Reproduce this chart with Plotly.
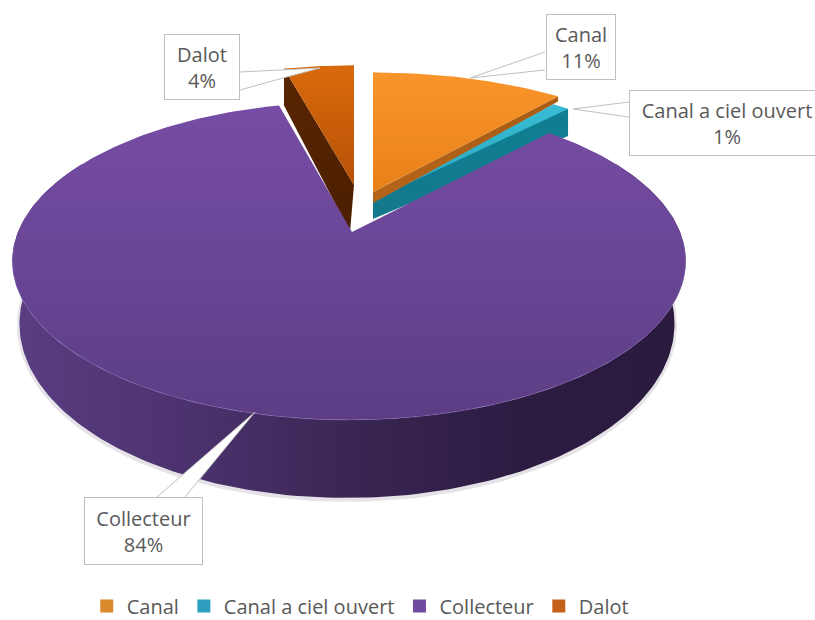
import numpy as np
import plotly.graph_objects as go

categories = ["Canal", "Canal a ciel ouvert", "Collecteur", "Dalot"]
values = [11, 1, 84, 4]
legend_colors = ["#d98a2b", "#2f9fc0", "#6f4a9e", "#c4601a"]

# perspective pie geometry (pixel-like axes)
A, B, K = 331.0, 153.7, 0.182
TEXT = "#595959"
FONT = "Open Sans"

total = sum(values)
edges = np.cumsum([0] + values) / total


def project(frac, cx, cy, xs=1.0, ys=1.0):
    t = 2 * np.pi * np.asarray(frac, dtype=float)
    w = 1 + K * np.cos(t)
    return cx + A * xs * np.sin(t) / w, cy - B * ys * np.cos(t) / w


def arc(i):
    return np.linspace(edges[i], edges[i + 1], max(8, int(400 * (edges[i + 1] - edges[i]))))


def wedge(i, cx, cy, xs=1.0, ys=1.0):
    x, y = project(arc(i), cx, cy, xs, ys)
    return [cx, *x, cx], [cy, *y, cy]


fig = go.Figure()


def poly(x, y, colors, kind="vertical"):
    # plotly's vertical gradient runs bottom to top on this reversed axis
    colors = colors[::-1] if kind == "vertical" else colors
    fig.add_trace(go.Scatter(
        x=list(x), y=list(y), mode="lines", fill="toself",
        line=dict(width=0),
        fillgradient=dict(type=kind, colorscale=[[i / (len(colors) - 1), c] for i, c in enumerate(colors)]),
        showlegend=False, hoverinfo="skip"))


# Dalot (index 3)
dx, dy = wedge(3, 354, 185, 1.0, 0.92)
ax, ay = project(edges[3], 354, 185, 1.0, 0.92)
poly([ax, ax, 350, 354], [ay, ay + 37, 232, 185], ["#5a2602", "#4a1e00"])
poly(dx, dy, ["#d96a0c", "#b85208"])

# Canal a ciel ouvert (index 1)
tx, ty = wedge(1, 373, 200, 0.975, 0.92)
ex, ey = project(edges[2], 373, 200, 0.975, 0.92)
sx, sy = project(edges[1], 373, 200, 0.975, 0.92)
poly([373, sx, ex, ex, 373], [200, sy, ey, ey + 27, 219], ["#0f7f93", "#14788c"])
poly(tx, ty, ["#38bcd4", "#2aa6c0"])

# Canal (index 0)
cx_, cy_ = wedge(0, 373, 192, 1.0, 0.92)
px, py = project(edges[1], 373, 192, 1.0, 0.92)
poly([373, px, px, 373], [192, py, py + 5, 203], ["#a85c12", "#b5651a"])
poly(cx_, cy_, ["#f9952a", "#e8801a"])

# Collecteur (index 2)
CX, CY = 349.0, 232.0
APEX_X = 352.0
front = np.linspace(0.17, 0.83, 200)
tx2, ty2 = project(front, CX, CY)
bx2, by2 = project(front, CX - 2, CY + 60, 0.973, 1.096)
fig.add_trace(go.Scatter(x=list(bx2), y=list(by2 + 1.5), mode="lines",
                         line=dict(color="rgba(70,60,90,0.14)", width=5),
                         showlegend=False, hoverinfo="skip"))
poly([*tx2, *bx2[::-1]], [*ty2, *by2[::-1]],
     ["#5a3d82", "#4c336f", "#3a2654", "#2c1c42", "#2a1a3e"], kind="horizontal")
wx, wy = wedge(2, CX, CY)
wx[0] = wx[-1] = APEX_X
poly(wx, wy, ["#764ca4", "#6a4696", "#5c3d84"])
hx, hy = project(np.linspace(0.26, 0.74, 160), CX, CY)
fig.add_trace(go.Scatter(x=list(hx), y=list(hy), mode="lines",
                         line=dict(color="rgba(130,100,180,0.55)", width=1),
                         showlegend=False, hoverinfo="skip"))

# legend entries
for name, color in zip(categories, legend_colors):
    fig.add_trace(go.Scatter(x=[None], y=[None], mode="markers", name=name,
                             marker=dict(symbol="square", size=13, color=color),
                             hoverinfo="skip"))

LINE = "#bfbfbf"
leaders = [
    "M 545 52 L 470 78 L 545 70",
    "M 629 102 L 573 109 L 629 117",
    "M 157 497 L 255 412 L 185 497",
    "M 240 72 L 320 68 L 283 78 L 240 90",
]
shapes = [dict(type="path", path=p, xref="x", yref="y", fillcolor="white",
               line=dict(color=LINE, width=1), layer="above") for p in leaders]

boxes = [(581, 47, 70, 66), (727, 123, 196, 66), (143, 531, 119, 68), (202, 67, 76, 66)]
annotations = [
    dict(x=x, y=y, xref="x", yref="y", xanchor="center", yanchor="middle",
         width=w - 2, height=h - 2, showarrow=False, align="center", valign="middle",
         text=f"{name}<br>{val}%", bgcolor="white", bordercolor=LINE, borderwidth=1, borderpad=0,
         font=dict(family=FONT, size=20, color=TEXT))
    for (x, y, w, h), name, val in zip(boxes, categories, values)
]

fig.update_layout(
    width=815, height=620, autosize=False,
    margin=dict(l=0, r=0, t=0, b=0),
    paper_bgcolor="white", plot_bgcolor="white",
    xaxis=dict(range=[0, 815], visible=False, fixedrange=True, constrain="range"),
    # one axis unit is one pixel whatever room the legend takes; the range grows downwards
    yaxis=dict(range=[500, 0], visible=False, fixedrange=True, scaleanchor="x", scaleratio=1,
               constrain="range", constraintoward="top"),
    shapes=shapes, annotations=annotations,
    legend=dict(orientation="h", xref="container", yref="container",
                x=0.442, xanchor="center", y=0.0226, yanchor="middle",
                font=dict(family=FONT, size=20, color=TEXT), bgcolor="rgba(0,0,0,0)",
                itemwidth=30, tracegroupgap=0),
)
fig.write_html("out.html", post_script="document.body.style.margin='0';",
               config={"displayModeBar": False})
